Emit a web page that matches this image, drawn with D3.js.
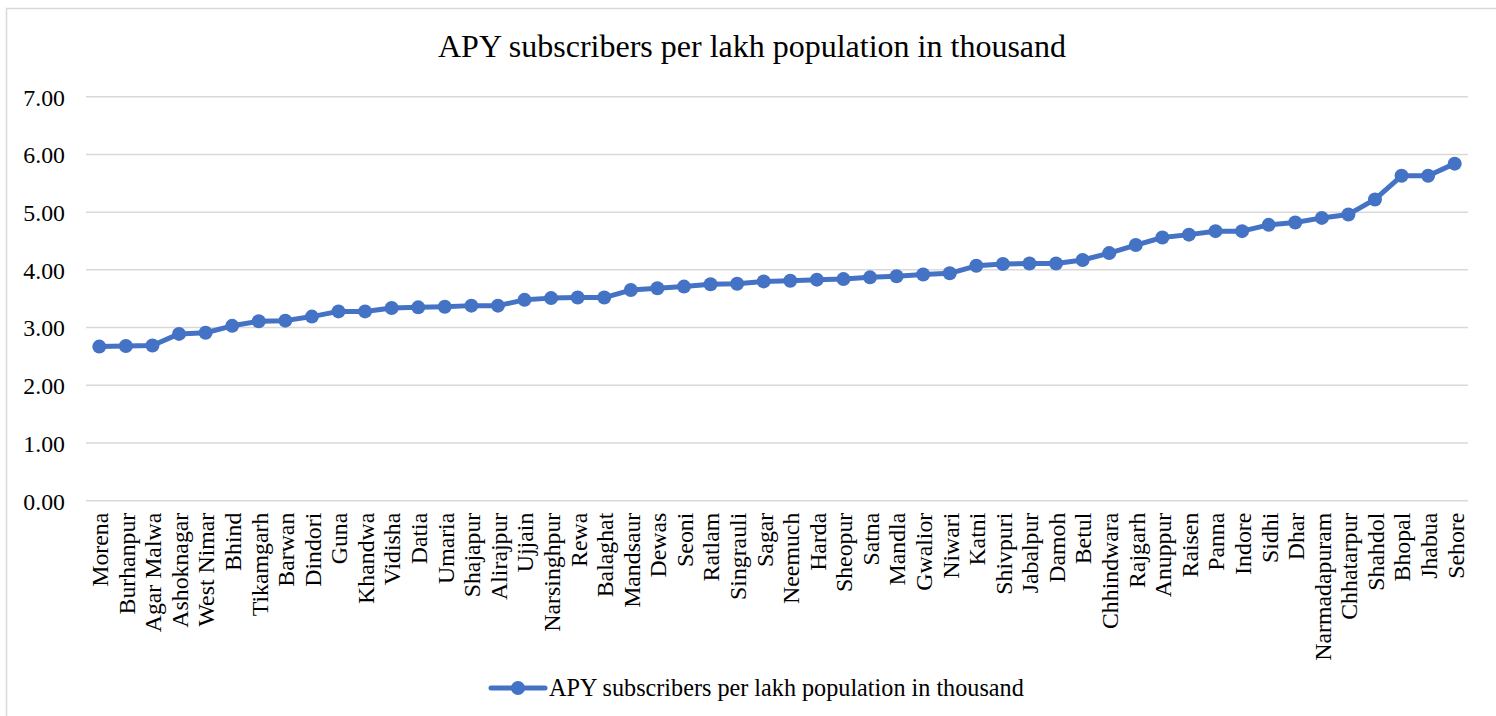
<!DOCTYPE html>
<html>
<head>
<meta charset="utf-8">
<script src="https://cdn.jsdelivr.net/npm/d3@7"></script>
<style>
  html, body { margin: 0; padding: 0; background: #fff; }
  svg { display: block; }
  text { font-family: "Liberation Serif", "Times New Roman", serif; fill: #000; }
</style>
</head>
<body>
<svg id="chart" width="1496" height="716"></svg>
<script>
// Districts, ordered from lowest to highest
const districts = [
  "Morena", "Burhanpur", "Agar Malwa", "Ashoknagar", "West Nimar", "Bhind",
  "Tikamgarh", "Barwan", "Dindori", "Guna", "Khandwa", "Vidisha", "Datia",
  "Umaria", "Shajapur", "Alirajpur", "Ujjain", "Narsinghpur", "Rewa",
  "Balaghat", "Mandsaur", "Dewas", "Seoni", "Ratlam", "Singrauli", "Sagar",
  "Neemuch", "Harda", "Sheopur", "Satna", "Mandla", "Gwalior", "Niwari",
  "Katni", "Shivpuri", "Jabalpur", "Damoh", "Betul", "Chhindwara", "Rajgarh",
  "Anuppur", "Raisen", "Panna", "Indore", "Sidhi", "Dhar", "Narmadapuram",
  "Chhatarpur", "Shahdol", "Bhopal", "Jhabua", "Sehore"
];

// APY subscribers per lakh population (thousand)
const subscribers = [
  2.67, 2.68, 2.69, 2.89, 2.91, 3.03,
  3.11, 3.12, 3.19, 3.28, 3.28, 3.34, 3.35,
  3.36, 3.38, 3.38, 3.48, 3.51, 3.52,
  3.52, 3.65, 3.68, 3.71, 3.75, 3.76, 3.80,
  3.81, 3.83, 3.84, 3.87, 3.89, 3.92, 3.94,
  4.07, 4.10, 4.11, 4.11, 4.17, 4.29, 4.43,
  4.56, 4.61, 4.67, 4.67, 4.78, 4.82, 4.90,
  4.96, 5.22, 5.63, 5.63, 5.84
];

const yTicks = [0, 1, 2, 3, 4, 5, 6, 7];

const seriesName = "APY subscribers per lakh population in thousand";
const chartTitle = "APY subscribers per lakh population in thousand";

const color = "#4472C4";
const gridColor = "#d9d9d9";
const serif = "'Liberation Serif', 'Times New Roman', serif";

const svg = d3.select("#chart");

// chart frame
svg.append("rect")
  .attr("x", 6.5).attr("y", 8.5)
  .attr("width", 1500).attr("height", 720)
  .attr("fill", "#fff")
  .attr("stroke", gridColor)
  .attr("stroke-width", 1.5);

const plot = { left: 86, right: 1468, top: 96.7, bottom: 500.7 };

const x = d3.scalePoint()
  .domain(districts)
  .range([plot.left, plot.right])
  .padding(0.5);

const y = d3.scaleLinear()
  .domain([0, 7])
  .range([plot.bottom, plot.top]);

// title
svg.append("text")
  .attr("x", 752).attr("y", 57)
  .attr("text-anchor", "middle")
  .style("font-size", "32px")
  .text(chartTitle);

// horizontal gridlines
svg.append("g")
  .selectAll("line")
  .data(yTicks)
  .join("line")
  .attr("x1", plot.left).attr("x2", plot.right)
  .attr("y1", d => y(d)).attr("y2", d => y(d))
  .attr("stroke", gridColor)
  .attr("stroke-width", 1.5);

// y axis labels
const yAxis = d3.axisLeft(y)
  .tickValues(yTicks)
  .tickFormat(d3.format(".2f"))
  .tickSize(0)
  .tickPadding(0);

svg.append("g")
  .attr("transform", `translate(65,0)`)
  .call(yAxis)
  .call(g => g.select(".domain").remove())
  .call(g => g.selectAll("text")
    .attr("dy", "0.35em")
    .style("font-size", "23.8px")
    .style("font-family", serif)
    .attr("fill", "#000"));

// category labels, rotated
const xAxis = d3.axisBottom(x).tickSize(0).tickPadding(0);
svg.append("g")
  .attr("transform", `translate(0,${plot.bottom})`)
  .call(xAxis)
  .call(g => g.select(".domain").remove())
  .call(g => g.selectAll("text")
    .attr("transform", "rotate(-90)")
    .attr("x", -12)
    .attr("y", 0)
    .attr("dy", "0.35em")
    .attr("text-anchor", "end")
    .style("font-size", "23.8px")
    .style("font-family", serif)
    .attr("fill", "#000"));

// series line
const line = d3.line()
  .x((d, i) => x(districts[i]))
  .y(d => y(d));

svg.append("path")
  .datum(subscribers)
  .attr("d", line)
  .attr("fill", "none")
  .attr("stroke", color)
  .attr("stroke-width", 5)
  .attr("stroke-linejoin", "round");

svg.append("g")
  .selectAll("circle")
  .data(subscribers)
  .join("circle")
  .attr("cx", (d, i) => x(districts[i]))
  .attr("cy", d => y(d))
  .attr("r", 7)
  .attr("fill", color);

// legend
const legend = svg.append("g").attr("transform", "translate(0,688)");
legend.append("line")
  .attr("x1", 491).attr("x2", 545)
  .attr("y1", 0).attr("y2", 0)
  .attr("stroke", color)
  .attr("stroke-width", 5)
  .attr("stroke-linecap", "round");
legend.append("circle")
  .attr("cx", 518).attr("cy", 0).attr("r", 7)
  .attr("fill", color);
legend.append("text")
  .attr("x", 549).attr("y", 0)
  .attr("dy", "0.35em")
  .style("font-size", "24.2px")
  .text(seriesName);
</script>
</body>
</html>
